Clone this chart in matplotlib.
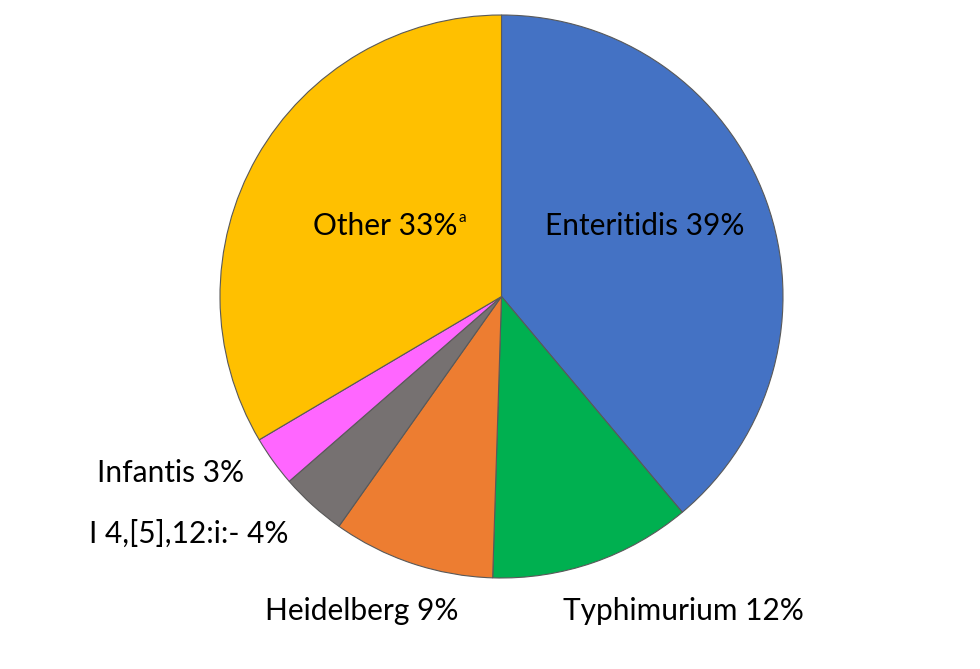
import matplotlib.pyplot as plt

# serotype shares (percent), clockwise from 12 o'clock
serotypes = ['Enteritidis', 'Typhimurium', 'Heidelberg', 'I 4,[5],12:i:-', 'Infantis', 'Other']
shares = [38.9, 11.6, 9.3, 3.8, 2.9, 33.5]
shown_pct = [39, 12, 9, 4, 3, 33]
colors = ['#4472C4', '#00B050', '#ED7D31', '#767171', '#FF66FF', '#FFC000']

W, H = 980, 669
fig = plt.figure(figsize=(W / 100, H / 100), dpi=100)
ax = fig.add_axes([0, 0, 1, 1])

ax.pie(shares, colors=colors, startangle=90, counterclock=False,
       center=(501.5, H - 296.5), radius=281.5,
       wedgeprops={'edgecolor': '#595959', 'linewidth': 0.8})
ax.set_xlim(0, W)
ax.set_ylim(0, H)
ax.set_aspect('equal')
ax.axis('off')

font = 'Lato'
fs = 21.5
# label positions in pixels (x centre, y from top)
label_pos = [(645, 226), (683, 611), (362, 611), (189, 534), (171, 473), (385, 226)]
texts = []
for name, pct, (x, y) in zip(serotypes, shown_pct, label_pos):
    t = ax.text(x, H - y, f'{name} {pct}%', ha='center', va='center',
                fontsize=fs, family=font, color='black')
    texts.append(t)

# footnote marker on "Other"
ax.annotate('a', xy=(1, 0.78), xycoords=texts[-1], xytext=(1, 0),
            textcoords='offset points', ha='left', va='center',
            fontsize=11, family=font)

fig.savefig('out.png', dpi=100)
